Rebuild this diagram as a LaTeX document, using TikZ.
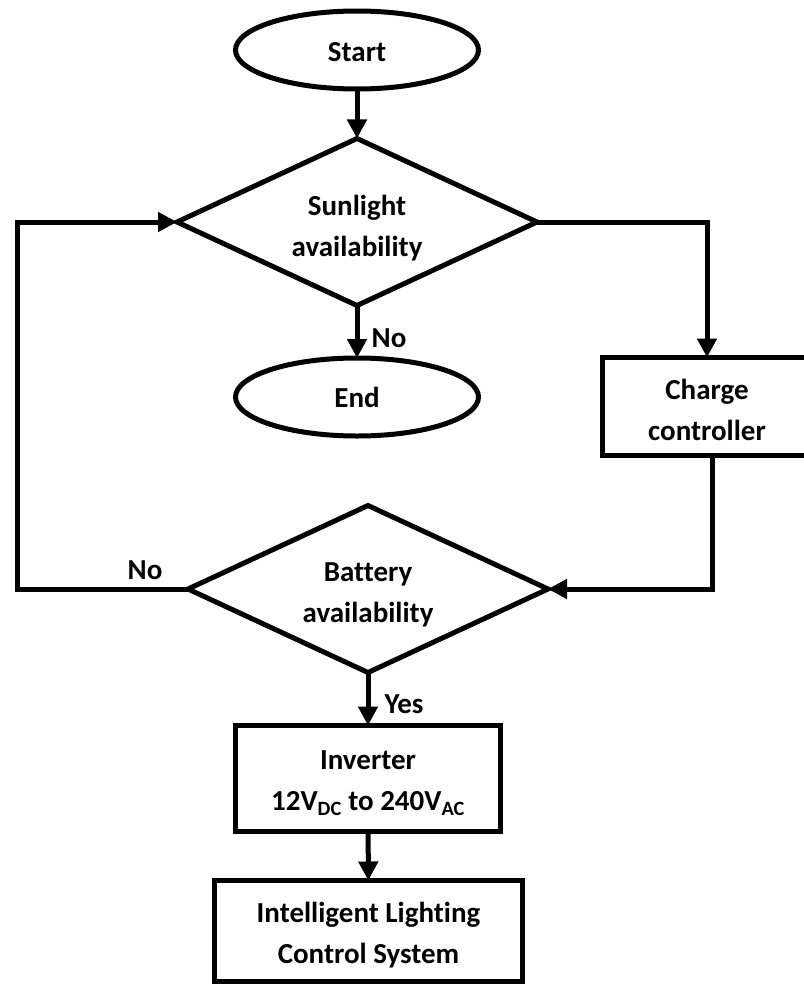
\documentclass[tikz,border=0pt]{standalone}
\usepackage{fontspec}
\setmainfont{Carlito}[Ligatures=NoCommon]
\usetikzlibrary{shapes.geometric,arrows.meta}
\begin{document}
\begin{tikzpicture}[x=1pt,y=-1pt,
  every node/.style={font=\fontsize{29}{41}\selectfont\bfseries, align=center, inner sep=0pt, outer sep=0pt},
  term/.style={draw, ellipse, line width=5pt, minimum width=243pt, minimum height=78pt},
  decision/.style={draw, diamond, line width=5pt, minimum width=360pt, minimum height=167pt},
  procbox/.style={draw, rectangle, line width=5pt},
  conn/.style={line width=5pt, -{Triangle[width=19pt,length=19pt]}}]
\useasboundingbox (0,0) rectangle (803,985);

% shapes
\node[term] (start) at (357,50) {};
\node[decision] (sun) at (357,222) {};
\node[term] (end) at (357,397) {};
\node[procbox, minimum width=210pt, minimum height=98pt] (cc) at (707,406.5) {};
\node[decision] (bat) at (368,589) {};
\node[procbox, minimum width=265pt, minimum height=106pt] (inv) at (368,778.5) {};
\node[procbox, minimum width=308pt, minimum height=101pt] (ilcs) at (368.5,931) {};

% texts
\node (starttxt) at (357,52) {Start};
\node (suntxt) at (357,228) {Sunlight\\availability};
\node (endtxt) at (357,397) {End};
\node (cctxt) at (707,410) {Charge\\controller};
\node (battxt) at (368,595) {Battery\\availability};
\node (invtxt) at (368,783) {Inverter\\12V\textsubscript{DC} to 240V\textsubscript{AC}};
\node (ilcstxt) at (368.5,935) {Intelligent Lighting\\Control System};

\node (nosun) at (389,338) {No};
\node (nobat) at (145,570) {No};
\node (yes) at (404,704) {Yes};

\coordinate (lc) at (17,0);
\coordinate (ccout) at ([xshift=5pt]cc.south);

\draw[conn] (start) -- (sun);
\draw[conn] (sun) -- (end);
\draw[conn] (sun.east) -| (cc.north);
\draw[conn] (ccout) |- (bat.east);
\draw[conn] (bat.west) -- (bat.west -| lc) |- (sun.west);
\draw[conn] (bat) -- (inv);
\draw[conn] (inv) -- (ilcs);
\end{tikzpicture}
\end{document}
